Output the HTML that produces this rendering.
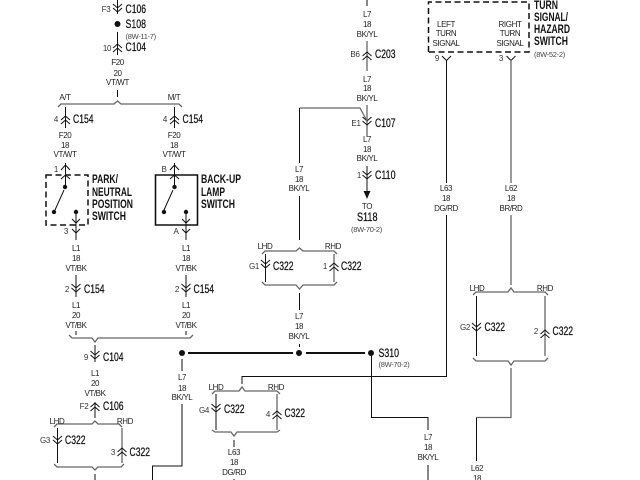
<!DOCTYPE html>
<html><head><meta charset="utf-8"><style>
html,body{margin:0;padding:0;background:#fff}
svg{display:block}
text{font-family:"Liberation Sans",Arial,sans-serif}
.s{font-size:8px;fill:#222;text-anchor:middle;letter-spacing:-.4px}
.p{font-size:8px;fill:#333;letter-spacing:-.3px;text-anchor:middle}
.b{font-size:11.5px;fill:#111;stroke:#111;stroke-width:.25px}
.l{font-size:11.5px;fill:#111;font-weight:bold}
.r{font-size:7.5px;fill:#444;letter-spacing:-.3px}
.k{stroke:#111;fill:none;stroke-width:1}
.g{stroke:#666;fill:none;stroke-width:1.3}
</style></head><body>
<svg width="640" height="480" viewBox="0 0 640 480" xmlns="http://www.w3.org/2000/svg">
<defs>
<path id="d" d="M-4.5-5 0-1 4.5-5M-4.5-1 0 3 4.5-1" fill="none"/>
<path id="u" d="M-4.5 5 0 1 4.5 5M-4.5 1 0-3 4.5 1" fill="none"/>
</defs>

<g class="k">
<!-- left top -->
<path d="M117.5 0V14M117.5 32V55"/>
<use href="#d" x="117.5" y="9"/>
<use href="#u" x="117.5" y="47"/>
<path d="M117.5 90V97"/>
<path class="g" d="M58 107 61 104H114L117.5 101 121 104H179L182 107"/>
<path d="M65.500 107V128M174.500 107V128"/>
<use href="#u" x="65.500" y="119"/><use href="#u" x="174.500" y="119"/>
<!-- switches -->
<path d="M65.500 163V186M61 170 65.500 165 70 170M61 179 65.500 175 70 179"/>
<path d="M174.500 163V186M170 170 174.500 165 179 170M170 179 174.500 175 179 179"/>
<path d="M46 175H88V225H46Z" stroke-width="1.500" stroke-dasharray="6 3.500" stroke="#111"/>
<path d="M155.500 175H197.500V225H155.500Z" stroke-width="1.600"/>
<path d="M64 190 55 210M173 190 164 210"/>
<path d="M76 212V240M186 212V240"/>
<path d="M72 219 76 223 80 219M182 219 186 223 190 219M72 229 76 233 80 229M182 229 186 233 190 229"/>
<!-- left lower -->
<path d="M76 275V297M186 275V297"/>
<use href="#d" x="76" y="289"/><use href="#d" x="186" y="289"/>
<path d="M76 331V335M186 331V335"/>
<path class="g" d="M69 335 72 338H92L95 342 98 338H190L193 335"/>
<path d="M95 345V362"/>
<use href="#d" x="95" y="356"/>
<path d="M95 402V418"/>
<use href="#u" x="95" y="406"/>
<path class="g" d="M54 427 57 424H92L95 421 98 424H119L122 427"/>
<path d="M57.500 428V463"/>
<use href="#d" x="57.500" y="441"/>
<path class="g" d="M122 428V463"/>
<use href="#u" x="122" y="451"/>
<path class="g" d="M54 464 57 467H92L95 470 98 467H121L124 464"/>
<path d="M95 474V480"/>
<!-- L7 -->
<path d="M182 359V371M182 404V466H152.500V480"/>
<!-- middle top -->
<path d="M367 0V6"/>
<path class="g" d="M367 41V71"/>
<use href="#u" x="367" y="55"/>
<path class="g" d="M367 105V137"/>
<use href="#d" x="367" y="122"/>
<path class="g" d="M299.500 108H360L367 121"/>
<path d="M299.500 108V163M299.500 196V240"/>
<path d="M367 166V194"/>
<use href="#d" x="367" y="176"/>
<!-- G1/1 group -->
<path class="g" d="M262 254 265 251H296L299.500 248 303 251H334L337 254"/>
<path d="M265.500 254V282"/>
<use href="#d" x="265.500" y="265"/>
<path class="g" d="M334 254V282"/>
<use href="#u" x="334" y="266"/>
<path class="g" d="M262 282 265 285H296L299.500 289 303 285H334L337 282"/>
<path d="M299.500 293V310M299.500 344V347"/>
<!-- S310 and branches -->
<path d="M188 353H293M306 353H365" stroke-width="2"/>
<path d="M371.500 356V417.500H428V430M428 465V480"/>
<path d="M242 384V376.500H446.500V215M446.500 183V60"/>
<path d="M442 56 446.500 60.500 451 56"/>
<path class="g" d="M212 394 215 391H239L242 387 245 391H277L280 394"/>
<path d="M216 394V430"/>
<use href="#d" x="216" y="409"/>
<path class="g" d="M277 394V430"/>
<use href="#u" x="277" y="414"/>
<path class="g" d="M212 430 215 432H231L234 436 237 432H277L280 430"/>
<path d="M234 440V447M234 479V480"/>
<!-- right -->
<path d="M428.500 52V2H529V52H428.500" stroke-width="1.500" stroke-dasharray="6 3.500" stroke="#111"/>
<path d="M506.500 56 511 60.500 515.500 56" />
<path class="g" stroke-width="1.600" d="M511 60V183M511 215V285"/>
<path class="g" d="M473 295 476 292H508L511 288 514 292H545L548 295"/>
<path d="M476.500 296V356"/>
<use href="#d" x="476.500" y="328"/>
<path class="g" d="M545 296V356"/>
<use href="#u" x="545" y="333"/>
<path class="g" d="M473 358 476 361H508L511 365 514 361H545L548 358"/>
<path class="g" d="M511 368V417.500H476.500"/>
<path d="M476.500 417.500V461"/>
</g>

<g fill="#111">
<circle cx="117.500" cy="24" r="3"/>
<circle cx="65" cy="187" r="2.200"/><circle cx="54" cy="212" r="2.200"/><circle cx="76" cy="212" r="2.200"/>
<circle cx="174.500" cy="187" r="2.200"/><circle cx="164" cy="212" r="2.200"/><circle cx="186" cy="212" r="2.200"/>
<circle cx="182" cy="353" r="3"/><circle cx="299" cy="353" r="3"/><circle cx="371" cy="353" r="3"/>
<path d="M363.500 191H370.500L367 199Z"/>
</g>

<!-- big connector labels -->
<g class="b">
<text x="125.500" y="13" textLength="20.500" lengthAdjust="spacingAndGlyphs">C106</text>
<text x="125.500" y="28" textLength="20.500" lengthAdjust="spacingAndGlyphs">S108</text>
<text x="125.500" y="51" textLength="20.500" lengthAdjust="spacingAndGlyphs">C104</text>
<text x="73" y="123" textLength="20.500" lengthAdjust="spacingAndGlyphs">C154</text>
<text x="182.500" y="123" textLength="20.500" lengthAdjust="spacingAndGlyphs">C154</text>
<text x="84" y="293" textLength="20.500" lengthAdjust="spacingAndGlyphs">C154</text>
<text x="193.500" y="293" textLength="20.500" lengthAdjust="spacingAndGlyphs">C154</text>
<text x="103" y="361" textLength="20.500" lengthAdjust="spacingAndGlyphs">C104</text>
<text x="103" y="410" textLength="20.500" lengthAdjust="spacingAndGlyphs">C106</text>
<text x="65" y="444" textLength="20.500" lengthAdjust="spacingAndGlyphs">C322</text>
<text x="129.500" y="456" textLength="20.500" lengthAdjust="spacingAndGlyphs">C322</text>
<text x="375" y="58" textLength="20.500" lengthAdjust="spacingAndGlyphs">C203</text>
<text x="375" y="127" textLength="20.500" lengthAdjust="spacingAndGlyphs">C107</text>
<text x="375" y="179" textLength="20.500" lengthAdjust="spacingAndGlyphs">C110</text>
<text x="357" y="221" textLength="20.500" lengthAdjust="spacingAndGlyphs">S118</text>
<text x="273" y="270" textLength="20.500" lengthAdjust="spacingAndGlyphs">C322</text>
<text x="341" y="270" textLength="20.500" lengthAdjust="spacingAndGlyphs">C322</text>
<text x="378.500" y="357" textLength="20.500" lengthAdjust="spacingAndGlyphs">S310</text>
<text x="224" y="413" textLength="20.500" lengthAdjust="spacingAndGlyphs">C322</text>
<text x="284.500" y="417" textLength="20.500" lengthAdjust="spacingAndGlyphs">C322</text>
<text x="484.500" y="331" textLength="20.500" lengthAdjust="spacingAndGlyphs">C322</text>
<text x="552.500" y="335" textLength="20.500" lengthAdjust="spacingAndGlyphs">C322</text>
</g>

<!-- component labels -->
<g class="l">
<text x="92" y="183" textLength="26" lengthAdjust="spacingAndGlyphs">PARK/</text>
<text x="92" y="196" textLength="40" lengthAdjust="spacingAndGlyphs">NEUTRAL</text>
<text x="92" y="208" textLength="41" lengthAdjust="spacingAndGlyphs">POSITION</text>
<text x="92" y="220" textLength="34" lengthAdjust="spacingAndGlyphs">SWITCH</text>
<text x="201" y="183" textLength="40" lengthAdjust="spacingAndGlyphs">BACK-UP</text>
<text x="201" y="196" textLength="24" lengthAdjust="spacingAndGlyphs">LAMP</text>
<text x="201" y="208" textLength="34" lengthAdjust="spacingAndGlyphs">SWITCH</text>
<text x="534" y="9" textLength="24" lengthAdjust="spacingAndGlyphs">TURN</text>
<text x="534" y="21" textLength="34" lengthAdjust="spacingAndGlyphs">SIGNAL/</text>
<text x="534" y="33" textLength="36" lengthAdjust="spacingAndGlyphs">HAZARD</text>
<text x="534" y="45" textLength="34" lengthAdjust="spacingAndGlyphs">SWITCH</text>
</g>

<g class="r">
<text x="125.500" y="39">(8W-11-7)</text>
<text x="351" y="232">(8W-70-2)</text>
<text x="378.500" y="367">(8W-70-2)</text>
<text x="534" y="57">(8W-52-2)</text>
</g>

<!-- pin labels -->
<g class="p">
<text x="106" y="12">F3</text><text x="107" y="51">10</text>
<text x="56" y="122">4</text><text x="165" y="122">4</text>
<text x="56" y="172">1</text><text x="164" y="172">B</text>
<text x="66" y="234">3</text><text x="176" y="234">A</text>
<text x="67" y="292">2</text><text x="177" y="292">2</text>
<text x="86" y="360">9</text><text x="84" y="409">F2</text>
<text x="45" y="443">G3</text><text x="113" y="455">3</text>
<text x="355" y="57">B6</text><text x="356" y="126">E1</text><text x="359" y="178">1</text>
<text x="254" y="269">G1</text><text x="325" y="269">1</text>
<text x="204" y="413">G4</text><text x="268" y="417">4</text>
<text x="437" y="61">9</text><text x="501" y="61">3</text>
<text x="465" y="330">G2</text><text x="536" y="334">2</text>
</g>

<!-- wire labels -->
<g class="s">
<text x="117.500" y="65">F20</text><text x="117.500" y="76">20</text><text x="117.500" y="85">VT/WT</text>
<text x="65" y="100">A/T</text><text x="174" y="100">M/T</text>
<text x="65" y="138">F20</text><text x="65" y="148">18</text><text x="65" y="157">VT/WT</text>
<text x="174" y="138">F20</text><text x="174" y="148">18</text><text x="174" y="157">VT/WT</text>
<text x="76" y="251">L1</text><text x="76" y="261">18</text><text x="76" y="271">VT/BK</text>
<text x="186" y="251">L1</text><text x="186" y="261">18</text><text x="186" y="271">VT/BK</text>
<text x="76" y="308">L1</text><text x="76" y="318">20</text><text x="76" y="328">VT/BK</text>
<text x="186" y="308">L1</text><text x="186" y="318">20</text><text x="186" y="328">VT/BK</text>
<text x="95" y="376">L1</text><text x="95" y="386">20</text><text x="95" y="396">VT/BK</text>
<text x="57" y="424">LHD</text><text x="125" y="424">RHD</text>
<text x="182" y="380">L7</text><text x="182" y="391">18</text><text x="182" y="400">BK/YL</text>
<text x="367" y="17">L7</text><text x="367" y="27">18</text><text x="367" y="37">BK/YL</text>
<text x="367" y="82">L7</text><text x="367" y="91">18</text><text x="367" y="101">BK/YL</text>
<text x="367" y="142">L7</text><text x="367" y="152">18</text><text x="367" y="161">BK/YL</text>
<text x="299" y="172">L7</text><text x="299" y="182">18</text><text x="299" y="191">BK/YL</text>
<text x="367" y="209">TO</text>
<text x="265" y="249">LHD</text><text x="333" y="249">RHD</text>
<text x="299" y="319">L7</text><text x="299" y="329">18</text><text x="299" y="339">BK/YL</text>
<text x="216" y="390">LHD</text><text x="276" y="390">RHD</text>
<text x="234" y="455">L63</text><text x="234" y="465">18</text><text x="234" y="475">DG/RD</text>
<text x="428" y="440">L7</text><text x="428" y="450">18</text><text x="428" y="460">BK/YL</text>
<text x="446" y="27">LEFT</text><text x="446" y="36">TURN</text><text x="446" y="46">SIGNAL</text>
<text x="510" y="27">RIGHT</text><text x="510" y="36">TURN</text><text x="510" y="46">SIGNAL</text>
<text x="446" y="191">L63</text><text x="446" y="201">18</text><text x="446" y="211">DG/RD</text>
<text x="511" y="191">L62</text><text x="511" y="201">18</text><text x="511" y="211">BR/RD</text>
<text x="477" y="291">LHD</text><text x="545" y="291">RHD</text>
<text x="477" y="471">L62</text><text x="477" y="481">18</text>
</g>
</svg>
</body></html>
